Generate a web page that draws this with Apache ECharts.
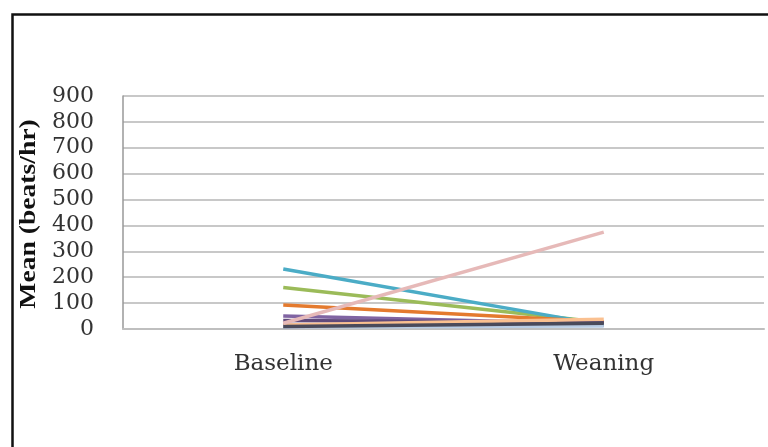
<!DOCTYPE html>
<html><head><meta charset="utf-8">
<script src="https://cdn.jsdelivr.net/npm/echarts@6/dist/echarts.min.js"></script>
<style>html,body{margin:0;padding:0;background:#fff}#c{width:768px;height:447px}</style>
</head><body><div id="c"></div>
<script>
const categories = ['Baseline', 'Weaning'];
const yTicks = [0, 100, 200, 300, 400, 500, 600, 700, 800, 900];
const yTitle = 'Mean (beats/hr)';
const s1 = [15, 20];
const s2 = [10, 15];
const s3 = [160, 25];
const s4 = [50, 20];
const s5 = [232, 15];
const s6 = [93, 28];
const s7 = [33, 25];
const s8 = [22, 374];
const s9 = [15, 38];
const s10 = [8, 12];
const s11 = [10, 22];
const seriesData = [s1, s2, s3, s4, s5, s6, s7, s8, s9, s10, s11];
const colors = ['#4F81BD', '#C0504D', '#9BBB59', '#8064A2', '#4BACC6', '#E47A2E', '#604A7B', '#E6B9B8', '#FAC090', '#B9CDE5', '#4A4A5A'];

const chart = echarts.init(document.getElementById('c'));
chart.setOption({
  animation: false,
  backgroundColor: '#fff',
  graphic: [{
    type: 'rect', left: 10, top: 12, shape: { width: 800, height: 500 },
    style: { fill: 'none', stroke: '#111', lineWidth: 2.5 }, silent: true, z: 100
  }, {
    type: 'text', x: 29, y: 214, rotation: Math.PI / 2, scaleX: 1.2, silent: true,
    style: { text: yTitle, fontFamily: 'Liberation Serif', fontSize: 23, fontWeight: 'bold',
      fill: '#111', align: 'center', verticalAlign: 'middle' }
  }],
  grid: { left: 123, right: 4, top: 96, bottom: 118 },
  xAxis: {
    type: 'category', data: categories, boundaryGap: true,
    axisLine: { lineStyle: { color: '#BFBFBF', width: 2 } },
    axisTick: { show: false },
    axisLabel: { fontFamily: 'DejaVu Serif', fontSize: 23, color: '#333', margin: 24 }
  },
  yAxis: {
    type: 'value', min: 0, max: 900, interval: 100,
    axisLine: { show: true, lineStyle: { color: '#999', width: 1.5 } },
    axisTick: { show: false },
    splitLine: { lineStyle: { color: '#C8C8C8', width: 2 } },
    axisLabel: { fontFamily: 'DejaVu Serif', fontSize: 22, color: '#333', margin: 29,
      formatter: v => yTicks.includes(v) ? String(v) : '' }
  },
  series: seriesData.map((d, i) => ({
    type: 'line', data: d, symbol: 'none',
    lineStyle: { color: colors[i], width: 3.5 }, color: colors[i], z: i === 7 ? 3 : 2
  }))
});
</script></body></html>
